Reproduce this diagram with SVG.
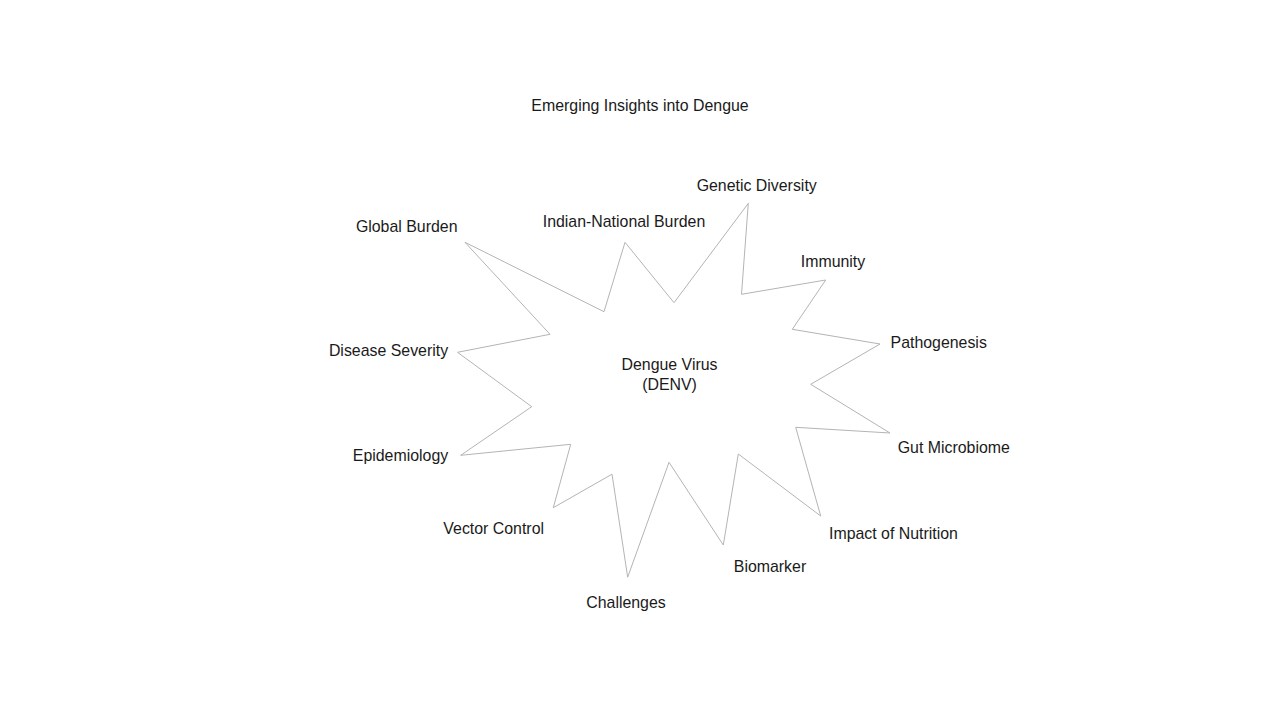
<svg xmlns="http://www.w3.org/2000/svg" width="1280" height="720" viewBox="0 0 1280 720">
<style>
text{font-family:"Liberation Sans",Arial,sans-serif;font-size:15.9px;fill:#1a1a1a;text-anchor:middle}
.star{fill:#ffffff;stroke:#b4b4b4;stroke-width:1}
</style>
<rect width="1280" height="720" fill="#ffffff"/>
<g id="title"><text x="640" y="111">Emerging Insights into Dengue</text></g>
<g id="center">
<polygon class="star" points="465,242.3 604,311.7 625,242.3 674,302.7 748.3,203.3 741.5,294.3 825.7,280 792.3,329.3 880,344 810.7,384.3 890,433 795.7,427.3 820.7,516 738.3,454 723.3,545 669,462.3 627.7,577.2 612,474.2 553.3,507.7 570.7,444.3 460.7,455.3 531.7,406.7 457.5,352.3 550,334.3"/>
<text x="669.5" y="369.5">Dengue Virus</text>
<text x="669.5" y="390">(DENV)</text>
</g>
<g id="n-global"><text x="406.7" y="231.5">Global Burden</text></g>
<g id="n-indian"><text x="624" y="227">Indian-National Burden</text></g>
<g id="n-genetic"><text x="756.7" y="190.5">Genetic Diversity</text></g>
<g id="n-immunity"><text x="833" y="266.5">Immunity</text></g>
<g id="n-pathogenesis"><text x="938.7" y="348">Pathogenesis</text></g>
<g id="n-gut"><text x="953.8" y="453">Gut Microbiome</text></g>
<g id="n-nutrition"><text x="893.5" y="539">Impact of Nutrition</text></g>
<g id="n-biomarker"><text x="770" y="571.7">Biomarker</text></g>
<g id="n-challenges"><text x="626" y="608.3">Challenges</text></g>
<g id="n-vector"><text x="493.7" y="534.3">Vector Control</text></g>
<g id="n-epidemiology"><text x="400.5" y="461">Epidemiology</text></g>
<g id="n-severity"><text x="388.5" y="356">Disease Severity</text></g>
<g id="connectors"></g>
</svg>
